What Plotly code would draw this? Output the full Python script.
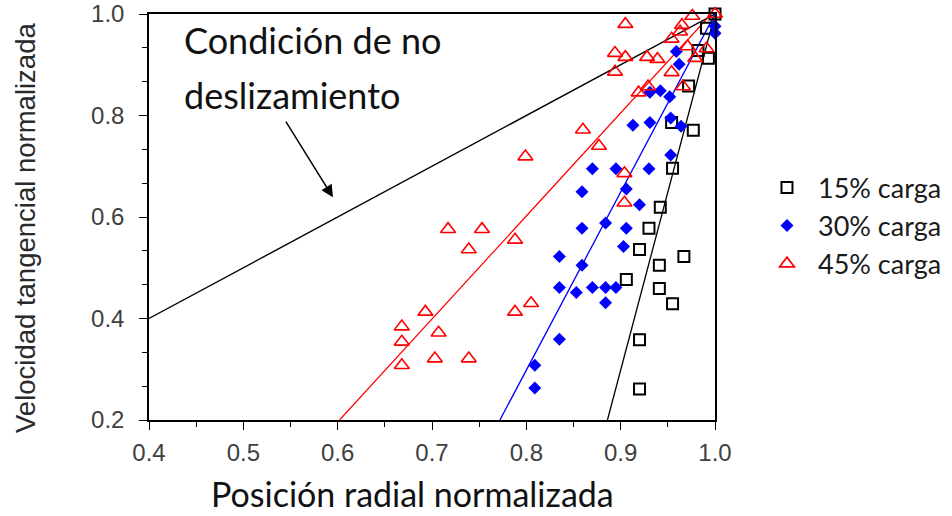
import plotly.graph_objects as go

# ---------------- data ----------------
x15 = [1.0, 0.991, 0.982, 0.993, 0.972, 0.954, 0.977, 0.955, 0.942, 0.930, 0.920, 0.967, 0.941, 0.906, 0.941, 0.955, 0.920, 0.920]
y15 = [1.0, 0.972, 0.928, 0.913, 0.858, 0.786, 0.771, 0.696, 0.619, 0.578, 0.536, 0.522, 0.505, 0.477, 0.459, 0.429, 0.358, 0.261]

x30 = [1.0, 1.0, 0.959, 0.962, 0.931, 0.942, 0.952, 0.913, 0.931, 0.953, 0.964, 0.953, 0.870, 0.895, 0.930,
       0.859, 0.906, 0.920, 0.859, 0.884, 0.906, 0.903, 0.835, 0.859, 0.835, 0.853, 0.870, 0.884, 0.895,
       0.884, 0.835, 0.809, 0.809]
y30 = [0.976, 0.962, 0.926, 0.901, 0.846, 0.849, 0.837, 0.781, 0.786, 0.795, 0.779, 0.722, 0.695, 0.695, 0.695,
       0.650, 0.655, 0.624, 0.578, 0.588, 0.578, 0.542, 0.522, 0.505, 0.461, 0.451, 0.461, 0.461, 0.461,
       0.431, 0.359, 0.308, 0.263]

x45 = [0.976, 1.0, 0.905, 0.965, 0.963, 0.954, 0.971, 0.991, 0.894, 0.905, 0.928, 0.939, 0.979, 0.894, 0.954,
       0.929, 0.919, 0.966, 0.860, 0.877, 0.799, 0.904, 0.904, 0.717, 0.753, 0.788, 0.739, 0.805, 0.693,
       0.788, 0.668, 0.707, 0.668, 0.703, 0.739, 0.668]
y45 = [0.996, 1.0, 0.980, 0.978, 0.965, 0.951, 0.936, 0.932, 0.923, 0.915, 0.915, 0.911, 0.913, 0.886, 0.885,
       0.857, 0.845, 0.857, 0.772, 0.740, 0.719, 0.686, 0.628, 0.576, 0.576, 0.555, 0.536, 0.430, 0.413,
       0.413, 0.384, 0.372, 0.354, 0.321, 0.321, 0.308]

# reference / fit lines (end points)
noslip_x = [0.4, 1.0]
noslip_y = [0.4, 1.0]
fit15_x = [0.886, 1.0]
fit15_y = [0.2, 1.0]
fit30_x = [0.772, 1.0]
fit30_y = [0.2, 1.0]
fit45_x = [0.602, 0.996]
fit45_y = [0.2, 1.0]

names = ["15% carga", "30% carga", "45% carga"]
x_ticks = [0.4, 0.5, 0.6, 0.7, 0.8, 0.9, 1.0]
y_ticks = [0.2, 0.4, 0.6, 0.8, 1.0]

BLUE = "#0000FF"
RED = "#FF0000"

fig = go.Figure()

def line(x, y, color, w):
    fig.add_trace(go.Scatter(x=x, y=y, mode="lines", line=dict(color=color, width=w),
                             showlegend=False, hoverinfo="skip"))

line(noslip_x, noslip_y, "black", 1.4)
line(fit15_x, fit15_y, "black", 1.3)
line(fit30_x, fit30_y, BLUE, 1.3)
line(fit45_x, fit45_y, RED, 1.2)

fig.add_trace(go.Scatter(x=x15, y=y15, mode="markers", name=names[0], cliponaxis=False,
                         marker=dict(symbol="square-open", size=11, color="black",
                                     line=dict(color="black", width=2))))
fig.add_trace(go.Scatter(x=x30, y=y30, mode="markers", name=names[1], cliponaxis=False,
                         marker=dict(symbol="diamond", size=10, color=BLUE,
                                     line=dict(width=0))))
fig.add_trace(go.Scatter(x=x45, y=y45, mode="markers", name=names[2], cliponaxis=False,
                         marker=dict(symbol="triangle-up-open", size=13, color=RED,
                                     line=dict(color=RED, width=1.6))))

TITLE_FONT = "Lato, Carlito, sans-serif"
TICK_FONT = dict(family="Liberation Sans, Arial, sans-serif", size=24, color="#404040")

fig.update_xaxes(range=[0.4, 1.0], tickvals=x_ticks, ticktext=[f"{v:.1f}" for v in x_ticks],
                 showgrid=False, zeroline=False, showline=True, linecolor="black", linewidth=1.5,
                 mirror=True, ticks="outside", ticklen=8, tickwidth=1.3, tickcolor="black",
                 tickfont=TICK_FONT, ticklabelstandoff=2, automargin=False,
                 minor=dict(dtick=0.05, tick0=0.4, ticks="outside", ticklen=5, tickwidth=1.2,
                            tickcolor="black", showgrid=False))
fig.update_yaxes(range=[0.2, 1.0], tickvals=y_ticks, ticktext=[f"{v:.1f}" for v in y_ticks],
                 showgrid=False, zeroline=False, showline=True, linecolor="black", linewidth=1.5,
                 mirror=True, ticks="outside", ticklen=8, tickwidth=1.3, tickcolor="black",
                 tickfont=TICK_FONT, ticklabelstandoff=10, automargin=False,
                 minor=dict(dtick=0.2 / 3, tick0=0.2, ticks="outside", ticklen=5, tickwidth=1.2,
                            tickcolor="black", showgrid=False))

fig.update_layout(
    width=952, height=516,
    margin=dict(l=149, r=237, t=14, b=96, autoexpand=False),
    paper_bgcolor="white", plot_bgcolor="white",
    showlegend=True,
    legend=dict(x=1.0724, y=0.632, xanchor="left", yanchor="top",
                font=dict(family=TITLE_FONT, size=27, color="#1a1a1a"),
                itemwidth=52, bgcolor="rgba(0,0,0,0)"),
    annotations=[
        dict(text="Posición radial normalizada", xref="paper", yref="paper", x=0.4664, y=-0.18,
             xanchor="center", yanchor="middle", showarrow=False,
             font=dict(family=TITLE_FONT, size=34, color="#111111")),
        dict(text="Velocidad tangencial normalizada", xref="paper", yref="paper", x=-0.2173, y=0.473,
             xanchor="center", yanchor="middle", showarrow=False, textangle=-90,
             font=dict(family="Liberation Sans, Arial, sans-serif", size=27.5, color="#2a2a2a")),
        dict(text="Condición de no", xref="paper", yref="paper", x=0.0583, y=0.936,
             xanchor="left", yanchor="middle", showarrow=False,
             font=dict(family=TITLE_FONT, size=36, color="#111111")),
        dict(text="deslizamiento", xref="paper", yref="paper", x=0.0583, y=0.80,
             xanchor="left", yanchor="middle", showarrow=False,
             font=dict(family=TITLE_FONT, size=36, color="#111111")),
        dict(text="", x=0.595, y=0.639, xref="x", yref="y", showarrow=True,
             ax=-48, ay=-77, arrowhead=2, arrowsize=1.6, arrowwidth=1.5, arrowcolor="black"),
    ],
)

fig.write_html("out.html")
